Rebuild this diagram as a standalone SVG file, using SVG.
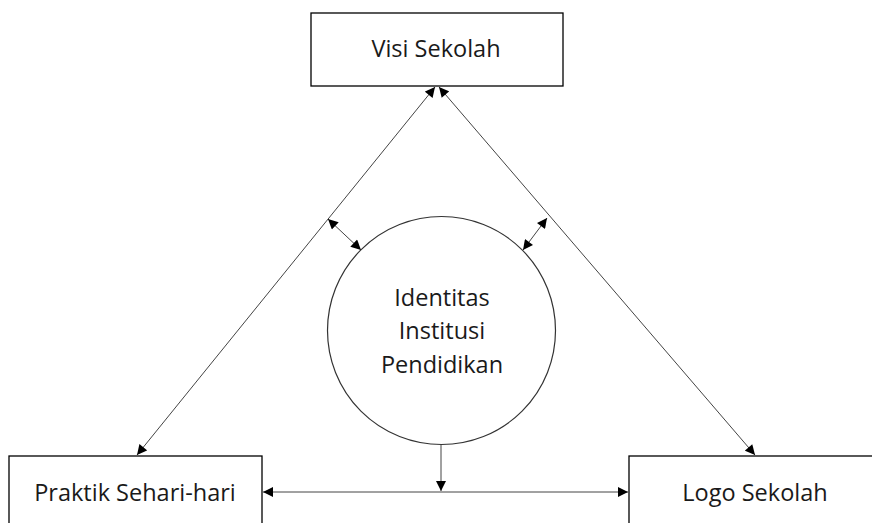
<svg xmlns="http://www.w3.org/2000/svg" width="872" height="523" viewBox="0 0 872 523">
<style>
.box{fill:#fff;stroke:#000;stroke-width:1.3}
.lbl{font-family:"Open Sans","Noto Sans",sans-serif;font-size:23.5px;fill:#1a1a1a;text-anchor:middle}
.con{stroke:#444;stroke-width:1;fill:none;marker-end:url(#ah);marker-start:url(#as)}
</style>
<defs>
<marker id="ah" viewBox="0 0 10 10" refX="10" refY="5" markerWidth="11" markerHeight="10" markerUnits="userSpaceOnUse" orient="auto"><path d="M0,0 L10,5 L0,10 z" fill="#000"/></marker>
<marker id="as" viewBox="0 0 10 10" refX="0" refY="5" markerWidth="11" markerHeight="10" markerUnits="userSpaceOnUse" orient="auto"><path d="M10,0 L0,5 L10,10 z" fill="#000"/></marker>
</defs>
<rect width="872" height="523" fill="#fff"/>
<g id="connectors">
<line class="con" x1="435" y1="87" x2="137" y2="455"/>
<line class="con" x1="439" y1="87" x2="755" y2="455"/>
<line class="con" x1="328" y1="219" x2="361" y2="250"/>
<line class="con" x1="547" y1="218" x2="523" y2="250"/>
<line class="con" x1="263" y1="492" x2="628" y2="492"/>
<line x1="441" y1="444" x2="441" y2="491" stroke="#444" stroke-width="1" marker-end="url(#ah)"/>
</g>
<g id="visi">
<rect class="box" x="311" y="13" width="252" height="73"/>
<text class="lbl" x="436" y="57">Visi Sekolah</text>
</g>
<g id="identitas">
<circle cx="441.5" cy="330.5" r="114" fill="#fff" stroke="#333" stroke-width="1.2"/>
<text class="lbl" x="442" y="306">Identitas</text>
<text class="lbl" x="442" y="339">Institusi</text>
<text class="lbl" x="442" y="373">Pendidikan</text>
</g>
<g id="praktik">
<rect class="box" x="9" y="456" width="253" height="80"/>
<text class="lbl" x="135" y="501">Praktik Sehari-hari</text>
</g>
<g id="logo">
<rect class="box" x="629" y="456" width="252" height="80"/>
<text class="lbl" x="755" y="501">Logo Sekolah</text>
</g>
</svg>
